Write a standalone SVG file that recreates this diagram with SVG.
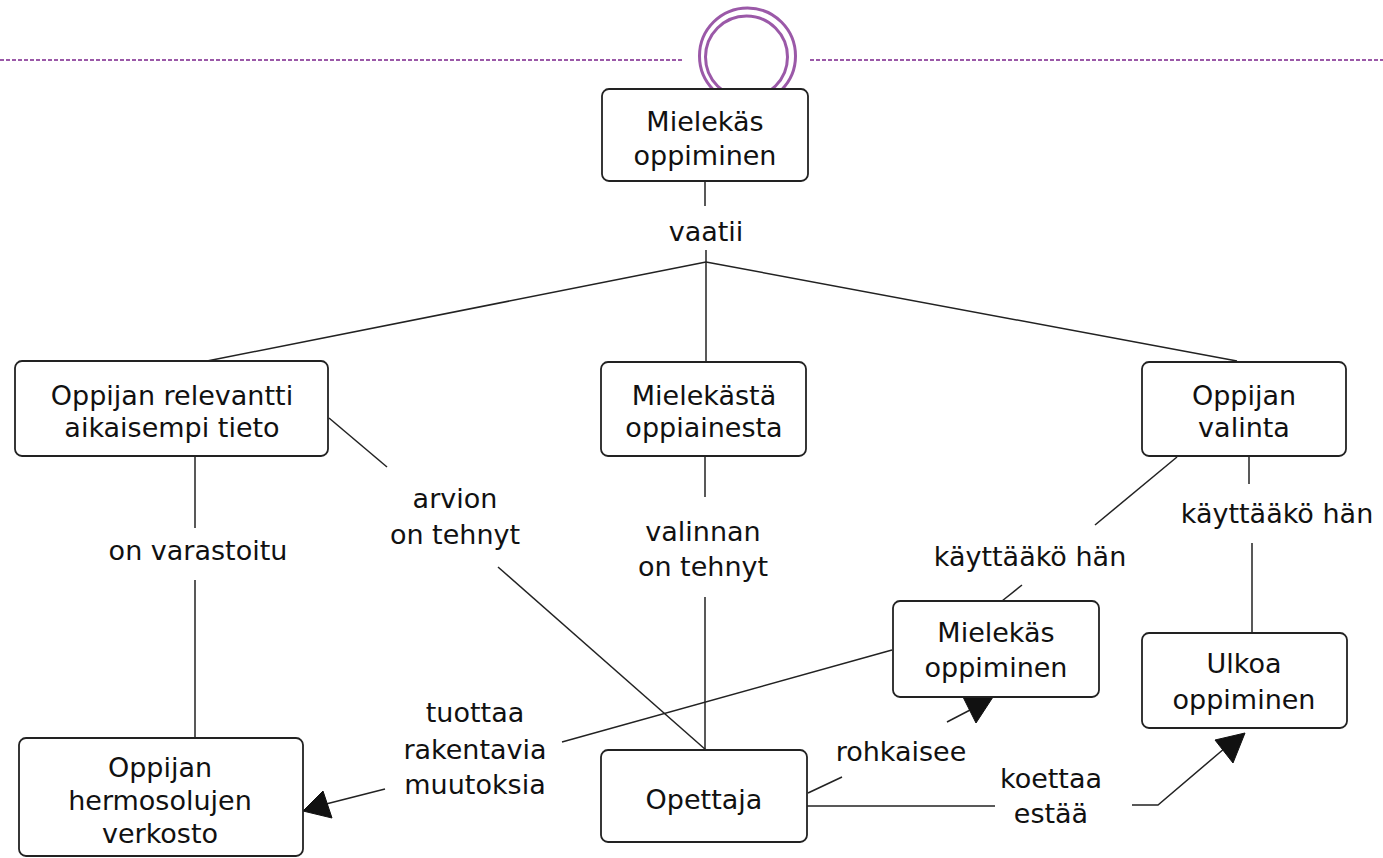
<svg xmlns="http://www.w3.org/2000/svg" width="1383" height="858" viewBox="0 0 1383 858">
<style>
.box{fill:#fff;stroke:#222;stroke-width:1.8}
.ln{fill:none;stroke:#222;stroke-width:1.5}
.ah{fill:#111;stroke:#111;stroke-width:1}
text{font-family:"DejaVu Sans","Liberation Sans",sans-serif;font-size:27px;fill:#111;text-anchor:middle}
.deco{fill:none;stroke:#9b59a8}
</style>
<rect width="1383" height="858" fill="#fff"/>
<g id="decoration">
<line class="deco" x1="0" y1="60" x2="682" y2="60" stroke-width="2" stroke-dasharray="4,2"/>
<line class="deco" x1="810" y1="60" x2="1383" y2="60" stroke-width="2" stroke-dasharray="4,2"/>
<circle class="deco" cx="747.5" cy="56" r="48" stroke-width="3"/>
<circle class="deco" cx="746.5" cy="57" r="41" stroke-width="3"/>
</g>
<g id="connectors">
<line class="ln" x1="705" y1="181" x2="705" y2="206"/>
<line class="ln" x1="706" y1="250" x2="706" y2="262"/>
<line class="ln" x1="706" y1="262" x2="207" y2="361"/>
<line class="ln" x1="706" y1="262" x2="706" y2="362"/>
<line class="ln" x1="706" y1="262" x2="1237" y2="361"/>
<line class="ln" x1="195" y1="456" x2="195" y2="528"/>
<line class="ln" x1="195" y1="580" x2="195" y2="738"/>
<line class="ln" x1="329" y1="418" x2="387" y2="467"/>
<line class="ln" x1="498" y1="567" x2="706" y2="750"/>
<line class="ln" x1="705" y1="456" x2="705" y2="497"/>
<line class="ln" x1="705" y1="597" x2="705" y2="750"/>
<line class="ln" x1="1177" y1="457" x2="1095" y2="525"/>
<line class="ln" x1="1022" y1="585" x2="1002" y2="601"/>
<line class="ln" x1="1249" y1="456" x2="1249" y2="484"/>
<line class="ln" x1="1252" y1="543" x2="1252" y2="633"/>
<line class="ln" x1="892" y1="650" x2="562" y2="742"/>
<line class="ln" x1="385" y1="789" x2="326" y2="804"/>
<polygon class="ah" points="303,811 323,791 332,818"/>
<line class="ln" x1="808" y1="793" x2="842" y2="777"/>
<line class="ln" x1="947" y1="722" x2="972" y2="709"/>
<polygon class="ah" points="963,697 993,697 976,723"/>
<line class="ln" x1="807" y1="806" x2="995" y2="806"/>
<polyline class="ln" points="1132,805 1158,805 1225,748"/>
<polygon class="ah" points="1215,740 1245,733 1233,763"/>
</g>
<g id="n1"><rect class="box" x="602" y="89" width="206" height="92" rx="7"/><text x="705" y="131">Mielekäs</text><text x="705" y="165">oppiminen</text></g>
<g id="n2"><rect class="box" x="15" y="361" width="313" height="95" rx="7"/><text x="172" y="405">Oppijan relevantti</text><text x="172" y="437">aikaisempi tieto</text></g>
<g id="n3"><rect class="box" x="601" y="362" width="205" height="94" rx="7"/><text x="704" y="405">Mielekästä</text><text x="704" y="437">oppiainesta</text></g>
<g id="n4"><rect class="box" x="1142" y="362" width="204" height="94" rx="7"/><text x="1244" y="405">Oppijan</text><text x="1244" y="437">valinta</text></g>
<g id="n5"><rect class="box" x="893" y="601" width="206" height="96" rx="7"/><text x="996" y="642">Mielekäs</text><text x="996" y="677">oppiminen</text></g>
<g id="n6"><rect class="box" x="1142" y="633" width="205" height="95" rx="7"/><text x="1244" y="673">Ulkoa</text><text x="1244" y="709">oppiminen</text></g>
<g id="n7"><rect class="box" x="19" y="738" width="284" height="118" rx="7"/><text x="160" y="777">Oppijan</text><text x="160" y="810">hermosolujen</text><text x="160" y="843">verkosto</text></g>
<g id="n8"><rect class="box" x="601" y="750" width="206" height="92" rx="7"/><text x="704" y="809">Opettaja</text></g>
<g id="labels">
<text x="706" y="241">vaatii</text>
<text x="198" y="560">on varastoitu</text>
<text x="455" y="508">arvion</text>
<text x="455" y="544">on tehnyt</text>
<text x="703" y="541">valinnan</text>
<text x="703" y="576">on tehnyt</text>
<text x="1030" y="566">käyttääkö hän</text>
<text x="1277" y="523">käyttääkö hän</text>
<text x="475" y="722">tuottaa</text>
<text x="475" y="759">rakentavia</text>
<text x="475" y="794">muutoksia</text>
<text x="901" y="761">rohkaisee</text>
<text x="1051" y="788">koettaa</text>
<text x="1051" y="823">estää</text>
</g>
</svg>
